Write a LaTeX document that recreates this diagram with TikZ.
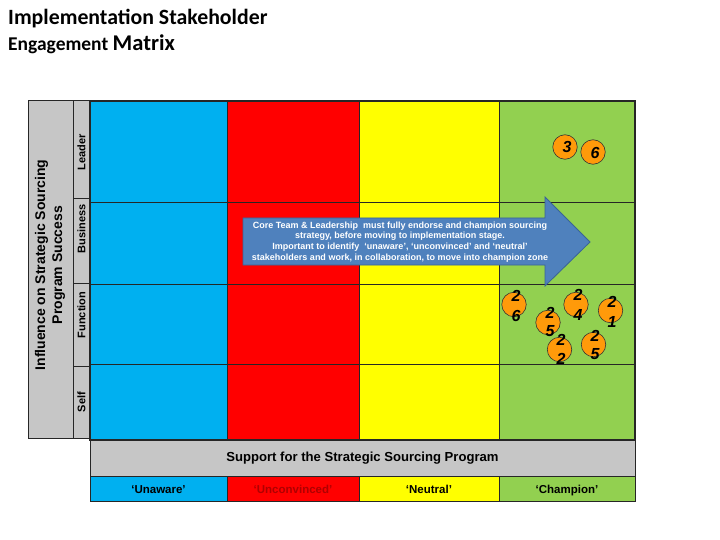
\documentclass[tikz,border=0pt]{standalone}
\usepackage{fontspec}
\setmainfont{Liberation Sans}
\newfontfamily\titlefont{Carlito}
\usetikzlibrary{calc}
\definecolor{cblue}{HTML}{00B0F0}
\definecolor{cred}{HTML}{FF0000}
\definecolor{cyel}{HTML}{FFFF00}
\definecolor{cgreen}{HTML}{92D050}
\definecolor{cgray}{HTML}{C6C6C6}
\definecolor{corange}{HTML}{FF9A0A}
\definecolor{carrow}{HTML}{4F81BD}
\definecolor{carrowb}{HTML}{3A6494}
\definecolor{cline}{HTML}{262626}
\definecolor{cdarkred}{HTML}{B00000}
\begin{document}
\begin{tikzpicture}[x=1pt,y=-1pt,
  cell/.style={draw=cline, line width=0.9pt},
  sidelabel/.style={rotate=90, font=\bfseries\fontsize{11}{12}\selectfont, inner sep=0pt},
  botlabel/.style={font=\bfseries\fontsize{11.5}{12}\selectfont, inner sep=0pt, anchor=base},
  dot/.style={circle, draw=black!80, fill=corange, minimum size=24.5pt, inner sep=0pt, line width=0.6pt},
  digit/.style={font=\bfseries\itshape\fontsize{16}{17}\selectfont, inner sep=0pt}]
\useasboundingbox (0,0) rectangle (720,540);

% title
\node[anchor=base west, inner sep=0pt, font=\titlefont\bfseries\fontsize{21.8}{24}\selectfont] (t1) at (8,25) {Implementation Stakeholder};
\node[anchor=base west, inner sep=0pt, font=\titlefont\bfseries\fontsize{19.5}{24}\selectfont] (t2) at (8,51) {Engagement \fontsize{22.5}{24}\selectfont Matrix};

% left axis box
\draw[cell, fill=cgray] (28,100) rectangle (73,438);
\draw[cell, fill=cgray] (73,100) rectangle (90,438);
\draw[cline, line width=0.6pt] (73,198) -- (90,198) (73,283) -- (90,283) (73,366) -- (90,366);
\node[rotate=90, align=center, font=\bfseries\fontsize{14}{17}\selectfont, inner sep=0pt] (axis) at (50,265) {Influence on Strategic Sourcing\\Program Success};
\node[sidelabel] (lead) at (81.5,152) {Leader};
\node[sidelabel] (bus) at (81.5,229) {Business};
\node[sidelabel] (fun) at (81.5,315) {Function};
\node[sidelabel] (self) at (81.5,402) {Self};

% columns
\fill[cblue] (90,101) rectangle (227,440);
\fill[cred] (227,101) rectangle (359,440);
\fill[cyel] (359,101) rectangle (499,440);
\fill[cgreen] (499,101) rectangle (635,440);
\draw[cline, line width=0.9pt] (227,101) -- (227,440) (359,101) -- (359,440) (499,101) -- (499,440);
\draw[cline, line width=0.9pt] (90,202) -- (635,202) (90,284) -- (635,284) (90,364) -- (635,364);
\draw[cline, line width=1.4pt] (90,101) rectangle (635,440);

% support bar
\draw[cell, fill=cgray] (90,440) rectangle (635,476);
\node[font=\bfseries\fontsize{13.1}{14}\selectfont, inner sep=0pt] (support) at (362.5,458) {Support for the Strategic Sourcing Program};

% bottom row
\draw[cell, fill=cblue] (90,476) rectangle (227,501);
\draw[cell, fill=cred] (227,476) rectangle (359,501);
\draw[cell, fill=cyel] (359,476) rectangle (499,501);
\draw[cell, fill=cgreen] (499,476) rectangle (635,501);
\node[botlabel] (unaware) at (158.5,493) {‘Unaware’};
\node[botlabel, text=cdarkred] (unconv) at (293,493) {‘Unconvinced’};
\node[botlabel] (neutral) at (429,493) {‘Neutral’};
\node[botlabel] (champ) at (567,493) {‘Champion’};

% arrow
\draw[draw=carrowb, fill=carrow, line width=0.8pt, line join=miter]
  (243,218) -- (545,218) -- (545,197) -- (590,242) -- (545,286) -- (545,265) -- (243,265) -- cycle;
\node[align=center, text=white, font=\bfseries\fontsize{9}{10.8}\selectfont, inner sep=0pt] (arrowtext) at (400,242)
 {Core Team \& Leadership \ must fully endorse and champion sourcing\\
  strategy, before moving to implementation stage.\\
  Important to identify \ ‘unaware’, ‘unconvinced’ and ‘neutral’\\
  stakeholders and work, in collaboration, to move into champion zone};

% circles
\node[dot] (c3) at (565,147) {};
\node[digit] (d3) at (567,147) {3};
\node[dot] (c6) at (593,152) {};
\node[digit] (d6) at (595,153) {6};

\node[dot] (c26) at (514,304.5) {};
\node[digit] (d26a) at (516,296) {2};
\node[digit] (d26b) at (516,315.5) {6};
\node[dot] (c25a) at (548,322.5) {};
\node[digit] (d25a1) at (550,312.5) {2};
\node[digit] (d25a2) at (550,331.5) {5};
\node[dot] (c24) at (576,304.5) {};
\node[digit] (d24a) at (578,295) {2};
\node[digit] (d24b) at (578,315) {4};
\node[dot] (c21) at (610.5,310.5) {};
\node[digit] (d21a) at (612,302) {2};
\node[digit] (d21b) at (612,321.5) {1};
\node[dot] (c22) at (559.5,349.5) {};
\node[digit] (d22a) at (561,340) {2};
\node[digit] (d22b) at (561,358.5) {2};
\node[dot] (c25b) at (593.5,344.5) {};
\node[digit] (d25b1) at (595,336) {2};
\node[digit] (d25b2) at (595,354.5) {5};
\end{tikzpicture}
\end{document}
